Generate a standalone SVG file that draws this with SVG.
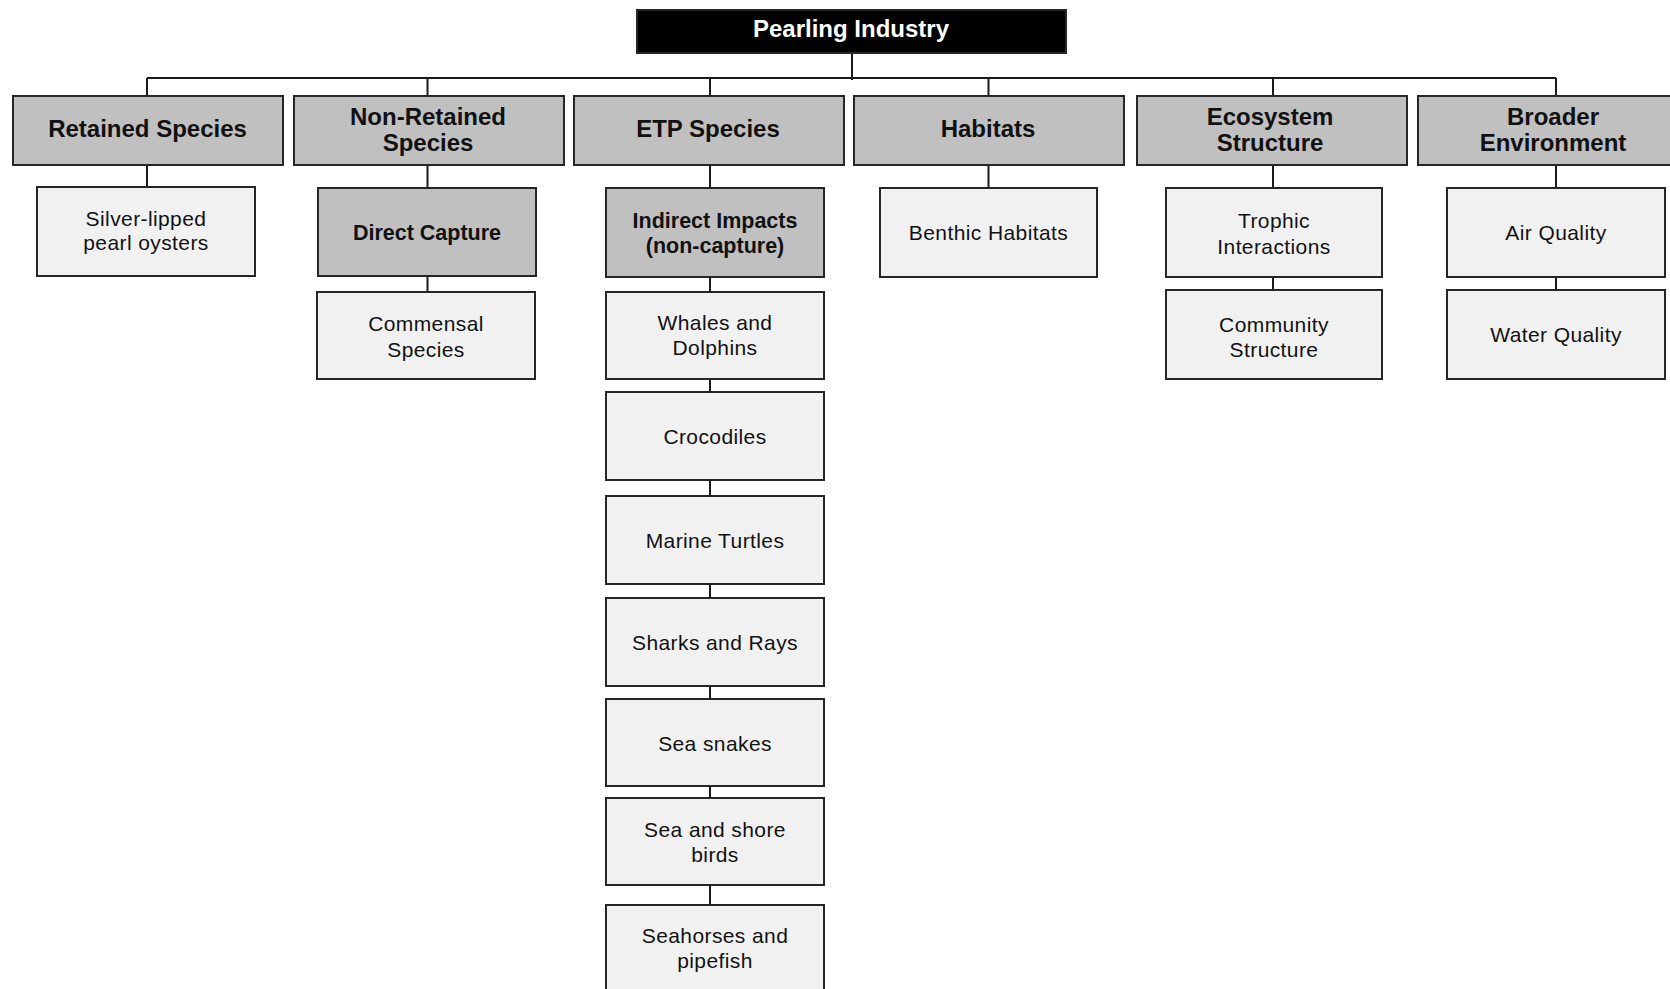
<svg xmlns="http://www.w3.org/2000/svg" width="1670" height="989" viewBox="0 0 1670 989">
  <style>
    rect { stroke: #262626; stroke-width: 2; }
    .dark rect { fill: #c0c0c0; }
    .light rect { fill: #f1f1f1; }
    text { font-family: "Liberation Sans", Arial, sans-serif; fill: #111; text-anchor: middle; }
    .h1 { font-size: 24px; font-weight: bold; }
    .h2 { font-size: 21.5px; font-weight: bold; }
    .t { font-size: 21px; letter-spacing: 0.4px; }
    #links path { fill: none; stroke: #1a1a1a; stroke-width: 2; }
  </style>

  <!-- connectors -->
  <g id="links">
    <path d="M852 53 V80 M147 78 H1556"/>
    <path d="M147 78 V96 M427.5 78 V96 M710 78 V96 M988.5 78 V96 M1273 78 V96 M1556 78 V96"/>
    <path d="M147 165 V187 M427.5 165 V188 M710 165 V188 M988.5 165 V188 M1273 165 V188 M1556 165 V188"/>
    <path d="M427.5 276 V292"/>
    <path d="M710 277 V292 M710 379 V392 M710 480 V496 M710 584 V598 M710 686 V699 M710 786 V798 M710 885 V905"/>
    <path d="M1273 277 V290 M1556 277 V290"/>
  </g>

  <!-- root -->
  <g id="pearling-industry">
    <rect x="637" y="10" width="429" height="43" fill="#000"/>
    <text class="h1" x="851" y="37" style="fill:#fff">Pearling Industry</text>
  </g>

  <!-- first level -->
  <g id="retained-species" class="dark">
    <rect x="13" y="96" width="270" height="69"/>
    <text class="h1" x="147.5" y="137">Retained Species</text>
  </g>
  <g id="non-retained-species" class="dark">
    <rect x="294" y="96" width="270" height="69"/>
    <text class="h1" x="428" y="125">Non-Retained</text>
    <text class="h1" x="428" y="151">Species</text>
  </g>
  <g id="etp-species" class="dark">
    <rect x="574" y="96" width="270" height="69"/>
    <text class="h1" x="708" y="137">ETP Species</text>
  </g>
  <g id="habitats" class="dark">
    <rect x="854" y="96" width="270" height="69"/>
    <text class="h1" x="988" y="137">Habitats</text>
  </g>
  <g id="ecosystem-structure" class="dark">
    <rect x="1137" y="96" width="270" height="69"/>
    <text class="h1" x="1270" y="125">Ecosystem</text>
    <text class="h1" x="1270" y="151">Structure</text>
  </g>
  <g id="broader-environment" class="dark">
    <rect x="1418" y="96" width="270" height="69"/>
    <text class="h1" x="1553" y="125">Broader</text>
    <text class="h1" x="1553" y="151">Environment</text>
  </g>

  <!-- retained -->
  <g id="silver-lipped" class="light">
    <rect x="37" y="187" width="218" height="89"/>
    <text class="t" x="146" y="225.5">Silver-lipped</text>
    <text class="t" x="146" y="250">pearl oysters</text>
  </g>

  <!-- non-retained -->
  <g id="direct-capture" class="dark">
    <rect x="318" y="188" width="218" height="88"/>
    <text class="h2" x="427" y="240">Direct Capture</text>
  </g>
  <g id="commensal-species" class="light">
    <rect x="317" y="292" width="218" height="87"/>
    <text class="t" x="426" y="331">Commensal</text>
    <text class="t" x="426" y="356.5">Species</text>
  </g>

  <!-- ETP -->
  <g id="indirect-impacts" class="dark">
    <rect x="606" y="188" width="218" height="89"/>
    <text class="h2" x="715" y="228">Indirect Impacts</text>
    <text class="h2" x="715" y="253">(non-capture)</text>
  </g>
  <g id="whales-dolphins" class="light">
    <rect x="606" y="292" width="218" height="87"/>
    <text class="t" x="715" y="329.5">Whales and</text>
    <text class="t" x="715" y="355">Dolphins</text>
  </g>
  <g id="crocodiles" class="light">
    <rect x="606" y="392" width="218" height="88"/>
    <text class="t" x="715" y="444">Crocodiles</text>
  </g>
  <g id="marine-turtles" class="light">
    <rect x="606" y="496" width="218" height="88"/>
    <text class="t" x="715" y="548">Marine Turtles</text>
  </g>
  <g id="sharks-rays" class="light">
    <rect x="606" y="598" width="218" height="88"/>
    <text class="t" x="715" y="650">Sharks and Rays</text>
  </g>
  <g id="sea-snakes" class="light">
    <rect x="606" y="699" width="218" height="87"/>
    <text class="t" x="715" y="750.5">Sea snakes</text>
  </g>
  <g id="sea-shore-birds" class="light">
    <rect x="606" y="798" width="218" height="87"/>
    <text class="t" x="715" y="836.5">Sea and shore</text>
    <text class="t" x="715" y="861.5">birds</text>
  </g>
  <g id="seahorses-pipefish" class="light">
    <rect x="606" y="905" width="218" height="100"/>
    <text class="t" x="715" y="943">Seahorses and</text>
    <text class="t" x="715" y="968">pipefish</text>
  </g>

  <!-- habitats -->
  <g id="benthic-habitats" class="light">
    <rect x="880" y="188" width="217" height="89"/>
    <text class="t" x="988.5" y="240">Benthic Habitats</text>
  </g>

  <!-- ecosystem -->
  <g id="trophic-interactions" class="light">
    <rect x="1166" y="188" width="216" height="89"/>
    <text class="t" x="1274" y="228">Trophic</text>
    <text class="t" x="1274" y="254">Interactions</text>
  </g>
  <g id="community-structure" class="light">
    <rect x="1166" y="290" width="216" height="89"/>
    <text class="t" x="1274" y="331.5">Community</text>
    <text class="t" x="1274" y="357">Structure</text>
  </g>

  <!-- broader environment -->
  <g id="air-quality" class="light">
    <rect x="1447" y="188" width="218" height="89"/>
    <text class="t" x="1556" y="240">Air Quality</text>
  </g>
  <g id="water-quality" class="light">
    <rect x="1447" y="290" width="218" height="89"/>
    <text class="t" x="1556" y="342">Water Quality</text>
  </g>
</svg>
